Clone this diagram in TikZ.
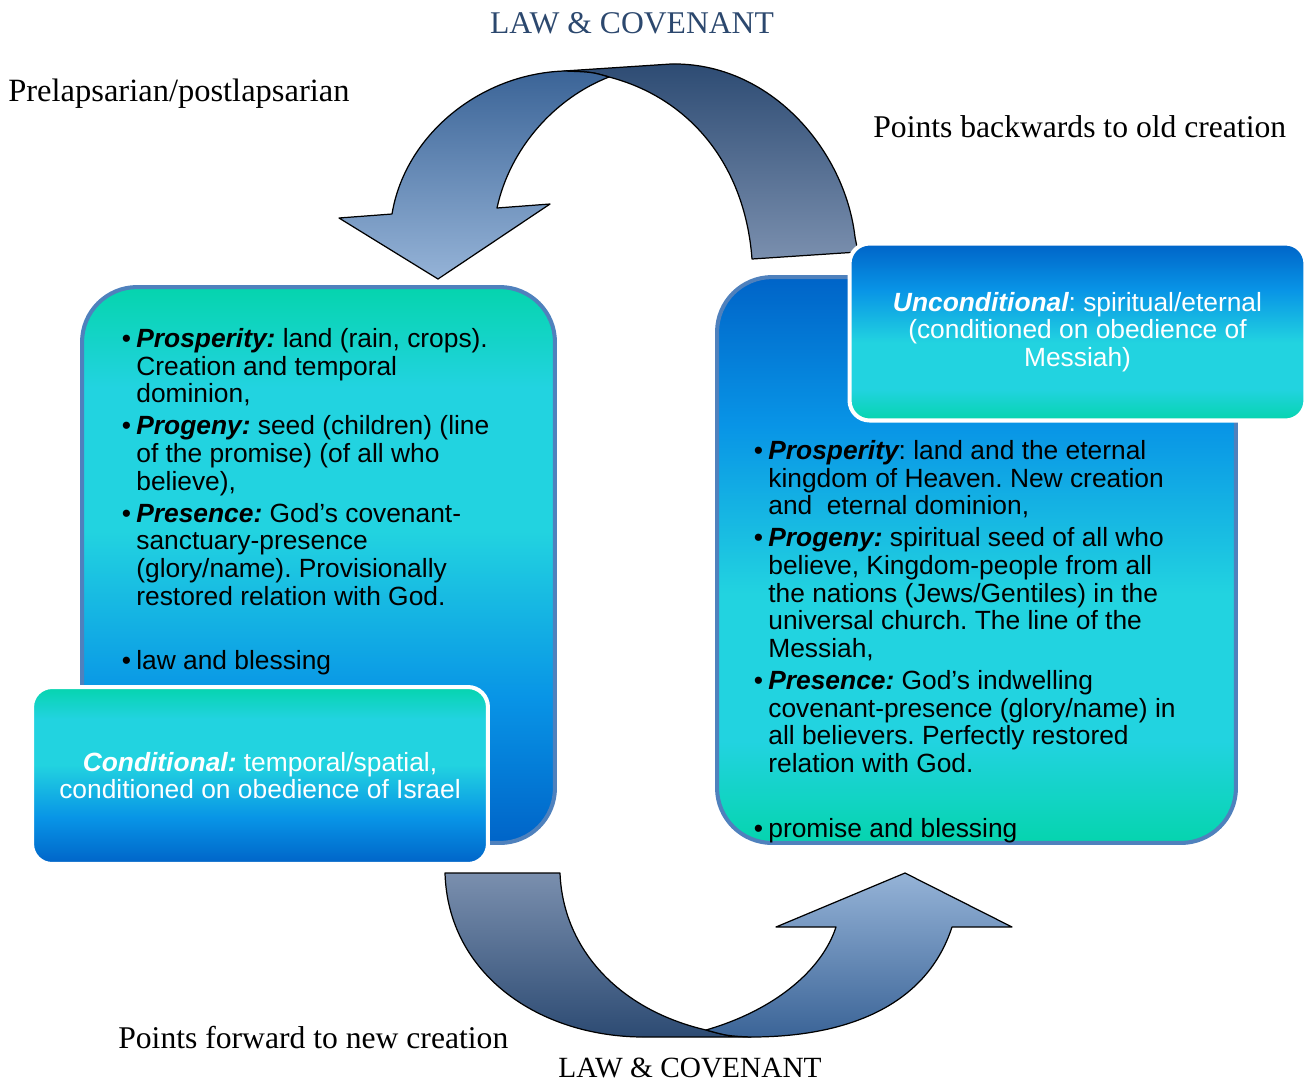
\documentclass[tikz,border=0pt]{standalone}
\usepackage{fontspec}
\setmainfont{Liberation Serif}
\setsansfont{Liberation Sans}
\usepackage{tikz}
\usetikzlibrary{arrows,shapes,positioning,shadings}
\frenchspacing
\definecolor{tealtop}{RGB}{5,212,174}
\definecolor{cyanmid}{RGB}{34,211,224}
\definecolor{bluemid}{RGB}{8,148,230}
\definecolor{bluebot}{RGB}{0,100,200}
\definecolor{frameblue}{RGB}{79,129,189}
\definecolor{titleblue}{RGB}{44,72,110}
\definecolor{bandlight}{RGB}{149,179,215}
\definecolor{banddark}{RGB}{59,100,151}
\definecolor{backlight}{RGB}{122,143,174}
\definecolor{backdark}{RGB}{45,75,115}
\pgfdeclareverticalshading{tealdown}{100bp}{color(0bp)=(bluebot); color(25bp)=(bluebot); color(38bp)=(bluemid); color(53bp)=(cyanmid); color(66bp)=(cyanmid); color(75bp)=(tealtop); color(100bp)=(tealtop)}
\pgfdeclareverticalshading{blueup}{100bp}{color(0bp)=(tealtop); color(25bp)=(tealtop); color(34bp)=(cyanmid); color(47bp)=(cyanmid); color(62bp)=(bluemid); color(75bp)=(bluebot); color(100bp)=(bluebot)}
\newcommand{\bodyfont}{\fontsize{15}{15.77}\selectfont}
\newcommand{\captionfont}{\fontsize{18}{21}\selectfont}
\newcommand{\bul}{\llap{\textbullet\hspace{3pt}}}
\newcommand{\lbl}[1]{{\bfseries\itshape #1}}
\tikzset{
    raw panel/.style={rectangle, rounded corners=1.1cm, line width=2.3pt, inner sep=0pt, draw=frameblue, shade},
    panel old/.style={raw panel, shading=tealdown, minimum width=9.46cm, minimum height=11.12cm},
    panel new/.style={raw panel, shading=blueup, minimum width=10.38cm, minimum height=11.32cm},
    raw tag/.style={rectangle, rounded corners=0.4cm, line width=2.3pt, draw=white, shade, inner sep=0pt, minimum width=9.12cm, minimum height=3.54cm, text=white, font=\bodyfont\sffamily, align=center},
    tag old/.style={raw tag, shading=tealdown},
    tag new/.style={raw tag, shading=blueup},
    item text/.style={font=\bodyfont\sffamily, align=left, inner sep=0pt, anchor=north west},
    caption/.style={font=\captionfont, inner sep=0pt}
}
\begin{document}
\begin{tikzpicture}[
	x=0.02cm, y=-0.02cm,
	band/.style={draw=black, line width=0.7pt, line join=round}]
		\useasboundingbox (0,0) rectangle (1309,1083);
		\begin{scope}[band]
			\draw[top color=backdark, bottom color=backlight] (564,71) -- (671,64)
				.. controls (770,62) and (845,150) .. (855,237) -- (858,252) -- (752,259)
				.. controls (745,165) and (690,98) .. (609,77)
				.. controls (592,72) .. (564,71) -- cycle;
			\draw[top color=banddark, bottom color=bandlight] (564,71)
				.. controls (480,74) and (405,135) .. (392,214) -- (339,218) -- (438,279)
				-- (550,204) -- (497,208)
				.. controls (510,148) and (555,98) .. (609,77)
				.. controls (592,72) .. (564,71) -- cycle;
			\draw[top color=backlight, bottom color=backdark] (445,873) -- (560,873)
				.. controls (563,950) and (620,1010) .. (706,1030)
				.. controls (728,1036) .. (751,1037) -- (644,1037)
				.. controls (540,1037) and (448,975) .. (445,873) -- cycle;
			\draw[top color=bandlight, bottom color=banddark] (706,1030)
				.. controls (775,1010) and (822,970) .. (836,927) -- (776,927) -- (905,873)
				-- (1012,927) -- (952,927)
				.. controls (925,1010) and (840,1037) .. (751,1037)
				.. controls (728,1036) .. (706,1030) -- cycle;
		\end{scope}
		\node[panel old] (oldpanel) at (318.5,565) {};
		\node[panel new] (newpanel) at (976.5,560) {};
		\node[tag old] (conditional) at (260,775.5) {\lbl{Conditional:} temporal/spatial,\\ conditioned on obedience of Israel};
		\node[tag new] (unconditional) at (1077.5,332) {\lbl{Unconditional}: spiritual/eternal\\ (conditioned on obedience of\\ Messiah)};
		\node[item text] (oldtext) at (136,328) {\bul\lbl{Prosperity:} land (rain, crops).\\ Creation and temporal\\ dominion,\\[2.4pt]
			\bul\lbl{Progeny:} seed (children) (line\\ of the promise) (of all who\\ believe),\\[2.4pt]
			\bul\lbl{Presence:} God’s covenant-\\ sanctuary-presence\\ (glory/name). Provisionally\\ restored relation with God.\\[20.7pt]
			\bul law and blessing};
		\node[item text] (newtext) at (768,440) {\bul\lbl{Prosperity}: land and the eternal\\ kingdom of Heaven. New creation\\ and\ \ eternal dominion,\\[2.4pt]
			\bul\lbl{Progeny:} spiritual seed of all who\\ believe, Kingdom-people from all\\ the nations (Jews/Gentiles) in the\\ universal church. The line of the\\ Messiah,\\[2.4pt]
			\bul\lbl{Presence:} God’s indwelling\\ covenant-presence (glory/name) in\\ all believers. Perfectly restored\\ relation with God.\\[21.3pt]
			\bul promise and blessing};
		\begin{scope}[every node/.style={caption}]
			\node[text=titleblue] (toptitle) at (632,23) {LAW \& COVENANT};
			\node[anchor=west, font=\fontsize{18.5}{21}\selectfont] (prelapse) at (8,94) {Prelapsarian/postlapsarian};
			\node[anchor=west] (backward) at (873,127) {Points backwards to old creation};
			\node[anchor=west] (forward) at (118,1038) {Points forward to new creation};
			\node[font=\fontsize{16.7}{20}\selectfont] (bottitle) at (690,1068) {LAW \& COVENANT};
		\end{scope}
	\end{tikzpicture}
\end{document}
